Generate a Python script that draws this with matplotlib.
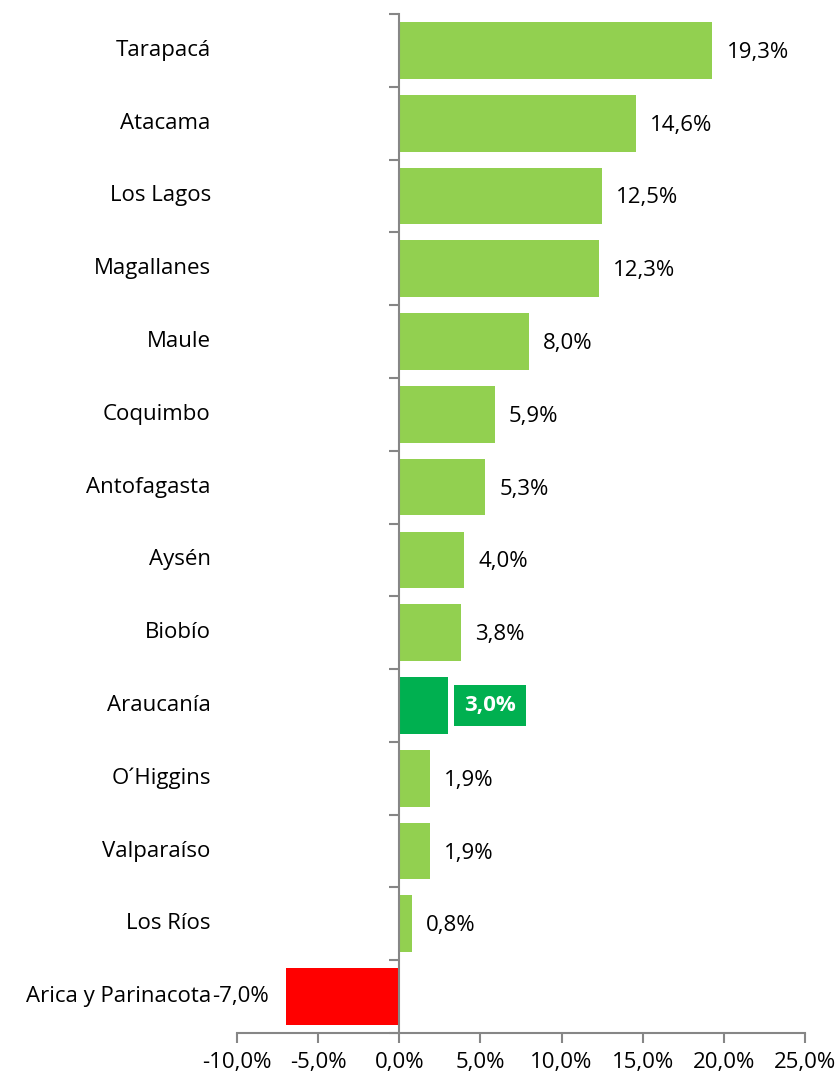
import matplotlib.pyplot as plt
from matplotlib.transforms import offset_copy

plt.rcParams['font.family'] = ['Open Sans', 'DejaVu Sans']

regiones = ['Tarapacá', 'Atacama', 'Los Lagos', 'Magallanes', 'Maule', 'Coquimbo',
            'Antofagasta', 'Aysén', 'Biobío', 'Araucanía', 'O´Higgins', 'Valparaíso',
            'Los Ríos', 'Arica y Parinacota']
valores = [19.3, 14.6, 12.5, 12.3, 8.0, 5.9, 5.3, 4.0, 3.8, 3.0, 1.9, 1.9, 0.8, -7.0]
xticks = [-10, -5, 0, 5, 10, 15, 20, 25]

# colores: verde claro normal, verde oscuro para Araucanía, rojo para negativos
colores = []
for r, v in zip(regiones, valores):
    if r == 'Araucanía':
        colores.append('#00B050')
    elif v < 0:
        colores.append('#FF0000')
    else:
        colores.append('#92D050')

gris = '#868686'
fs = 16
fig = plt.figure(figsize=(8.4, 10.81), dpi=100)
ax = fig.add_axes([237/840, 1-1033/1081, 568/840, 1019/1081])

y = list(range(len(regiones)))
ax.barh(y, valores, height=0.78, color=colores)

ax.set_xlim(-10, 25)
ax.set_ylim(len(regiones)-0.5, -0.5)
ax.set_xticks(xticks)
ax.set_xticklabels([('%.1f%%' % t).replace('.', ',') for t in xticks])
ax.tick_params(axis='x', direction='out', length=7, width=1.5, color=gris,
               labelsize=fs, pad=7)

# eje vertical en x=0 con marcas entre categorías
ax.spines['left'].set_position(('data', 0))
ax.spines['left'].set_color(gris)
ax.spines['left'].set_linewidth(1.5)
ax.spines['bottom'].set_color(gris)
ax.spines['bottom'].set_linewidth(1.5)
ax.spines['top'].set_visible(False)
ax.spines['right'].set_visible(False)
ax.set_yticks([i - 0.5 for i in range(len(regiones) + 1)])
ax.set_yticklabels([])
ax.tick_params(axis='y', direction='out', length=7, width=1.5, color=gris)

# nombres de regiones a la izquierda del área de gráfico
for i, r in enumerate(regiones):
    ax.text(-0.046, i, r, transform=ax.get_yaxis_transform(), ha='right',
            va='center', fontsize=fs)

# etiquetas de datos
for i, (r, v) in enumerate(zip(regiones, valores)):
    txt = ('%.1f%%' % v).replace('.', ',')
    if r == 'Araucanía':
        tr = offset_copy(ax.transData, fig=fig, x=16, y=0, units='dots')
        ax.text(v, i, txt, transform=tr, ha='left', va='center', fontsize=fs,
                color='white', fontweight='bold',
                bbox=dict(boxstyle='square,pad=0.45', fc='#00B050', ec='none'))
    elif v < 0:
        tr = offset_copy(ax.transData, fig=fig, x=-17, y=0, units='dots')
        ax.text(v, i, txt, transform=tr, ha='right', va='center', fontsize=fs)
    else:
        tr = offset_copy(ax.transData, fig=fig, x=14, y=-2, units='dots')
        ax.text(v, i, txt, transform=tr, ha='left', va='center', fontsize=fs)

fig.savefig('out.png', dpi=100)
